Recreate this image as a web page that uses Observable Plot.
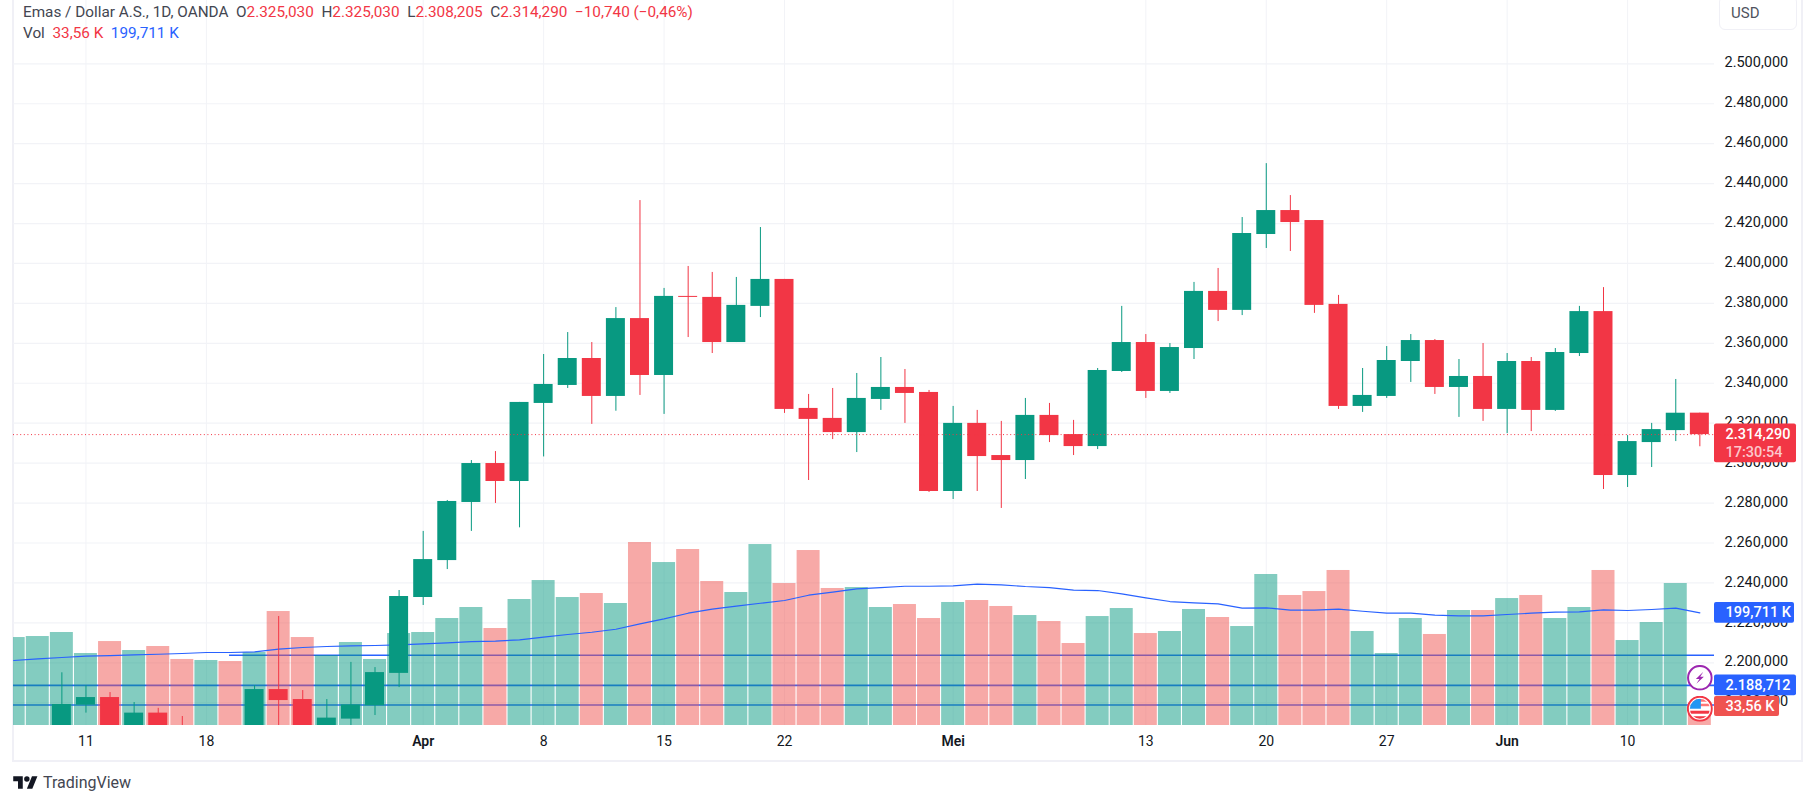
<!DOCTYPE html>
<html><head><meta charset="utf-8">
<script src="https://cdn.jsdelivr.net/npm/d3@7"></script>
<script src="https://cdn.jsdelivr.net/npm/@observablehq/plot@0.6"></script>
<style>
html,body{margin:0;padding:0;background:#fff;width:1814px;height:804px;overflow:hidden}
body{position:relative;font-family:"Roboto",sans-serif}
#frame{position:absolute;left:12px;top:-2px;width:1787px;height:760px;border:2px solid #f0f0f6}
#chart{position:absolute;left:0;top:0}
.leg{position:absolute;left:23px;font-size:15.3px;color:#434651;white-space:pre;line-height:18px}
.r{color:#f23645}.b{color:#2962ff}
#usd{position:absolute;left:1719px;top:-4px;width:76px;height:32px;border:1.5px solid #f0f0f6;border-radius:6px;font-size:15px;color:#50535e;line-height:32px;text-indent:11px}
#foot{position:absolute;left:13px;top:773px;display:flex;align-items:center;gap:5px;font-size:16px;color:#434651}
</style></head><body>
<div id="frame"></div>
<div id="chart"></div>
<div class="leg" style="top:3px">Emas / Dollar A.S., 1D, OANDA  O<span class="r">2.325,030</span>  H<span class="r">2.325,030</span>  L<span class="r">2.308,205</span>  C<span class="r">2.314,290</span>  <span class="r">−10,740 (−0,46%)</span></div>
<div class="leg" style="top:24px">Vol  <span class="r">33,56 K</span>  <span class="b">199,711 K</span></div>
<div id="usd">USD</div>
<div id="foot"><svg width="25" height="15" viewBox="0 2 36 22"><path fill="#131722" d="M14 22H7V11H0V4h14v18zM28 22h-8l7.5-18h8L28 22z"/><circle fill="#131722" cx="20" cy="8" r="4"/></svg><span>TradingView</span></div>
<script>
const dates = ["03-06","03-07","03-08","03-11","03-12","03-13","03-14","03-15","03-18","03-19","03-20","03-21","03-22","03-25","03-26","03-27","03-28","04-01","04-02","04-03","04-04","04-05","04-08","04-09","04-10","04-11","04-12","04-15","04-16","04-17","04-18","04-19","04-22","04-23","04-24","04-25","04-26","04-29","04-30","05-01","05-02","05-03","05-06","05-07","05-08","05-09","05-10","05-13","05-14","05-15","05-16","05-17","05-20","05-21","05-22","05-23","05-24","05-27","05-28","05-29","05-30","05-31","06-03","06-04","06-05","06-06","06-07","06-10","06-11","06-12","06-13"];
const opens = [2148,2152,2161,2178.8,2182.6,2163.6,2174.8,2165,2150,2162,2163.6,2186.6,2181.6,2163.6,2171.8,2178.5,2194.7,2232.7,2251.2,2280.3,2299.8,2290.8,2329.9,2338.9,2352.4,2333.4,2372.4,2343.9,2383.5,2383,2360.4,2378.5,2392,2327.4,2322.4,2315.3,2331.9,2337.9,2335.4,2285.8,2319.9,2303.8,2301.3,2323.9,2314.3,2308.3,2345.9,2360.4,2335.9,2357.4,2386,2376.5,2414.5,2426.5,2421.5,2379.5,2328.4,2333.4,2350.9,2361.4,2337.9,2343.4,2326.9,2350.9,2326.4,2354.9,2375.9,2293.8,2310.3,2316.3,2325.03];
const highs = [2164,2166,2195,2188.6,2185.1,2180.1,2177.2,2173.1,2165,2166,2188.6,2223.2,2186.1,2181.6,2200.2,2197.6,2236.2,2265.8,2281.3,2301.3,2305.8,2330.4,2354.4,2365.4,2360.4,2377.9,2431.5,2387.5,2398.5,2395.5,2393,2418,2392,2334.4,2337.4,2344.9,2352.9,2346.9,2336.4,2328.4,2326.4,2320.9,2332.4,2329.9,2321.4,2347.4,2378.5,2364.4,2359.9,2390.5,2397.5,2423,2450,2434,2421.5,2384,2347.4,2358.4,2364.4,2361.9,2351.9,2359.9,2354.9,2352.9,2357.4,2378.5,2387.9,2313.8,2319.9,2341.9,2325.03];
const lows = [2143,2147,2154,2174.8,2156,2158.6,2158.6,2156,2146,2148,2158.6,2161,2158.6,2158.6,2161,2173.6,2187.6,2228.7,2246.7,2265.8,2279.8,2267.6,2303.1,2337.4,2319.4,2326,2333.9,2324.4,2362.9,2354.9,2360.4,2372.9,2324.9,2291.3,2311.8,2305.3,2326.4,2319.9,2285.3,2281.8,2285.8,2277.3,2291.8,2310.3,2303.8,2306.8,2345.4,2332.4,2334.9,2351.9,2370.9,2373.9,2407.5,2406,2375,2326.9,2325.4,2332.4,2340.4,2334.4,2322.9,2320.9,2314.8,2315.8,2325.9,2353.4,2286.8,2287.8,2297.8,2310.8,2308.205];
const closes = [2160,2162,2179.1,2182.6,2161,2174.8,2163.6,2158.6,2162,2152,2186.6,2181.1,2163.6,2172.3,2178.9,2195.1,2233.2,2251.7,2280.8,2299.8,2290.8,2330.4,2339.4,2352.4,2333.4,2372.4,2343.9,2383.5,2383,2360.4,2379,2392,2326.9,2321.9,2315.3,2332.4,2337.9,2334.9,2285.8,2319.9,2303.3,2301.3,2323.9,2313.8,2308.3,2346.4,2360.4,2335.9,2357.9,2386,2376.5,2415,2426.5,2420.5,2379,2328.4,2333.9,2351.4,2361.4,2337.9,2343.4,2326.9,2350.9,2326.4,2355.4,2375.9,2293.8,2310.8,2316.8,2325,2314.29];
const volumes = [155.9,157.7,164.8,127.6,148.8,132.9,140,117,115.2,113.4,129.4,202,155.9,124,147.1,117,163,164.8,189.6,209.1,171.9,223.3,256.9,226.8,233.9,216.2,324.3,288.8,311.9,255.2,235.7,320.7,251.6,310.1,242.8,244.5,209.1,214.4,189.6,218,221.5,210.9,194.9,184.3,145.3,193.1,207.3,163,166.6,205.6,191.4,175.4,267.6,230.4,237.4,274.7,166.6,127.6,189.6,161.3,203.8,203.8,225,230.4,189.6,209.1,274.7,150.6,182.5,251.6,33.56];
const volumeMA = [115.2,118.2,120.5,122.8,124,125.3,126.3,127.6,129.4,129.4,130.6,135.2,138.2,140,141.2,141.8,143,144.8,146.5,148.8,149.4,151.9,156.5,161.3,165.3,170.6,180.2,189.1,199,206.1,211.4,216.7,221.5,230.9,236.2,242.2,244.5,246.8,246.8,247.5,250.4,249.3,246.3,244.5,239.8,239.2,233.4,226.3,219.7,217.4,215.7,207.9,208.6,204.3,204.3,206.1,202.5,199,199,195.5,194.4,194.4,196.7,199,200.8,201.5,205,203.8,205.6,207.9,199.711];
const tickDates = ["03-11","03-18","04-01","04-08","04-15","04-22","05-01","05-13","05-20","05-27","06-03","06-10"];
const tickLabels = ["11","18","Apr","8","15","22","Mei","13","20","27","Jun","10"];
const monthLabels = ["Apr","Mei","Jun"];
const priceTicks = d3.range(2180, 2501, 20);
const lastPrice = 2314.29;
const levels = [{price: 2203.8, from: "03-18"}, {price: 2188.712, from: "03-06"}, {price: 2178.9, from: "03-06"}];

const GREEN = "#089981", RED = "#f23645", VOLRED = "#ef5350", BLUE = "#2962ff", GRID = "#f2f3f7";

// secondary axis: volume (thousands) expressed on the price scale
const volToPrice = d3.scaleLinear([0, 100], [2168.6, 2196.86]);
const fmt = d3.formatLocale({decimal: ",", thousands: ".", grouping: [3], currency: ["", ""]}).format(",.3f");

const rows = dates.map((date, i) => ({
  i, date, open: opens[i], high: highs[i], low: lows[i], close: closes[i],
  vol: volumes[i], ma: volumeMA[i],
  color: closes[i] >= opens[i] ? GREEN : RED
}));
const lastIndex = dates.length - 1;
const xDomain = [-0.008, 70.608];
const xEdge = xDomain[1];
const ticks = tickDates.map((d, k) => ({i: dates.indexOf(d), label: tickLabels[k]}));
const labelOf = new Map(ticks.map(t => [t.i, t.label]));
const plainTicks = ticks.filter(t => !monthLabels.includes(t.label)).map(t => t.i);
const monthTicks = ticks.filter(t => monthLabels.includes(t.label)).map(t => t.i);

const tags = [
  {y: lastPrice - 4.4, half: 9.7, w: 3.404, fill: RED},
  {y: volToPrice(199.711), half: 5.2, w: 3.321, fill: BLUE},
  {y: 2188.712, half: 5.2, w: 3.404, fill: BLUE},
  {y: volToPrice(33.56), half: 5.0, w: 2.70, fill: VOLRED}
];
const tagLines = [
  {t: fmt(lastPrice), y: lastPrice, c: "#fff"},
  {t: "17:30:54", y: 2305.3, c: "#fcc8cc"},
  {t: "199,711 K", y: volToPrice(199.711), c: "#fff"},
  {t: fmt(2188.712), y: 2188.712, c: "#fff"},
  {t: "33,56 K", y: volToPrice(33.56), c: "#fff"}
];

const svgIcon = s => "data:image/svg+xml;utf8," + encodeURIComponent(s);
const boltIcon = svgIcon('<svg xmlns="http://www.w3.org/2000/svg" viewBox="0 0 26 26"><circle cx="13" cy="13" r="11.8" fill="#fff" stroke="#9c27b0" stroke-width="2"/><path d="M16.5 7 9 14.3h3.6L9.5 19l7.5-7h-3.6z" fill="#9c27b0"/></svg>');
const flagIcon = svgIcon('<svg xmlns="http://www.w3.org/2000/svg" viewBox="0 0 26 26"><clipPath id="c"><circle cx="13" cy="13" r="10"/></clipPath><circle cx="13" cy="13" r="12" fill="#fff" stroke="#f23645" stroke-width="2"/><g clip-path="url(#c)"><rect y="3" width="26" height="20" fill="#fff"/><rect y="15" width="26" height="3" fill="#f23645"/><rect y="20.5" width="26" height="3" fill="#f23645"/><rect y="3" width="26" height="3" fill="#f77"/><rect y="8" width="26" height="2.5" fill="#f77"/><rect x="2" y="3" width="12" height="10" fill="#2196f3"/></g></svg>');
const icons = [{i: lastIndex, price: 2192.5, src: boltIcon}, {i: lastIndex, price: 2177, src: flagIcon}];

const chart = Plot.plot({
  width: 1814, height: 804,
  marginLeft: 13, marginRight: 100, marginTop: 0, marginBottom: 79,
  x: {type: "linear", domain: xDomain, axis: null},
  y: {type: "linear", domain: [2168.6, 2531.7], axis: null},
  color: {type: "identity"},
  style: {background: "transparent", fontFamily: "Roboto, sans-serif", fontSize: "14.5px", overflow: "visible"},
  marks: [
    Plot.ruleY(priceTicks, {stroke: GRID, strokeWidth: 1.2}),
    Plot.ruleX(ticks, {x: "i", stroke: GRID, strokeWidth: 1}),
    Plot.ruleY(levels, {y: "price", x1: d => dates.indexOf(d.from) === 0 ? xDomain[0] : dates.indexOf(d.from) + 0.96, x2: xEdge, stroke: BLUE, strokeWidth: 1.6}),
    Plot.rect(rows, {x1: d => d.i - 0.477, x2: d => d.i + 0.477, y1: d => volToPrice(0), y2: d => volToPrice(d.vol), fill: d => d.color === GREEN ? GREEN : VOLRED, fillOpacity: 0.5, clip: true}),
    Plot.line(rows, {x: "i", y: d => volToPrice(d.ma), stroke: BLUE, strokeWidth: 1.2, clip: true}),
    Plot.ruleX(rows, {x: "i", y1: "low", y2: "high", stroke: "color", strokeWidth: 1, clip: true}),
    Plot.rect(rows, {x1: d => d.i - 0.394, x2: d => d.i + 0.394, y1: d => Math.min(d.open, d.close) , y2: d => Math.max(d.open, d.close), fill: "color", clip: true}),
    Plot.ruleY([lastPrice], {stroke: RED, strokeWidth: 1, strokeDasharray: "1 2.6"}),
    Plot.axisY({anchor: "right", ticks: priceTicks, tickSize: 0, tickPadding: 10, tickFormat: fmt, label: null, color: "#131722", fontSize: 14.5, dy: -1}),
    Plot.axisX({anchor: "bottom", ticks: plainTicks, tickSize: 0, tickPadding: 11, tickFormat: i => labelOf.get(i), label: null, color: "#131722", fontSize: 14}),
    Plot.axisX({anchor: "bottom", ticks: monthTicks, tickSize: 0, tickPadding: 11, tickFormat: i => labelOf.get(i), label: null, color: "#131722", fontSize: 14, fontWeight: 600}),
    Plot.image(icons, {x: "i", y: "price", src: "src", width: 26, height: 26}),
    Plot.rect(tags, {x1: xEdge, x2: d => xEdge + d.w, y1: d => d.y - d.half, y2: d => d.y + d.half, fill: "fill", rx: 2}),
    Plot.text(tagLines, {x: xEdge + 0.457, y: "y", text: "t", fill: "c", textAnchor: "start", fontSize: 14.5, fontWeight: 500})
  ]
});
document.getElementById("chart").append(chart);
</script>
</body></html>
